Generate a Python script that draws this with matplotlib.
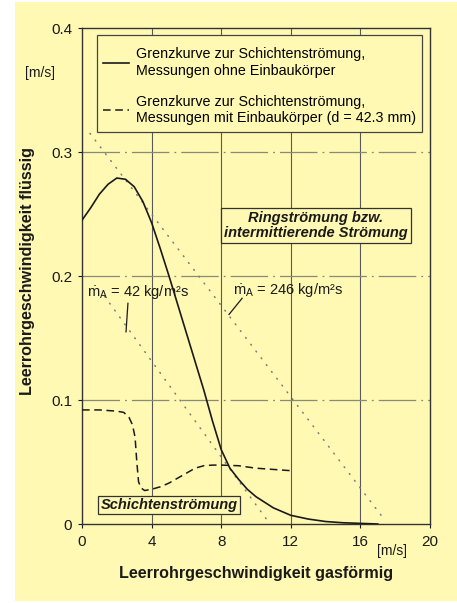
import matplotlib
matplotlib.use("Agg")
import matplotlib.pyplot as plt
from matplotlib.patches import Rectangle

# ---- data ----
solid_x = [0, 0.5, 1.0, 1.5, 2.0, 2.5, 3.0, 3.5, 4.0, 4.5, 5.0, 5.5, 6.0, 6.5, 7.0,
           7.5, 8.0, 8.5, 9.0, 9.5, 10, 11, 12, 13, 14, 15, 16, 17]
solid_y = [0.245, 0.255, 0.266, 0.274, 0.279, 0.278, 0.272, 0.260, 0.243, 0.222, 0.200,
           0.177, 0.154, 0.131, 0.108, 0.083, 0.060, 0.045, 0.036, 0.028, 0.022, 0.013,
           0.007, 0.004, 0.002, 0.001, 0.0005, 0.0]

dash_x = [0, 1, 2, 2.4, 2.7, 2.9, 3.05, 3.15, 3.25, 3.4, 3.6, 4, 4.5, 5, 5.5, 6, 6.5,
          7, 7.5, 8, 9, 10, 11, 12]
dash_y = [0.092, 0.092, 0.091, 0.090, 0.086, 0.080, 0.070, 0.050, 0.034, 0.029, 0.027,
          0.028, 0.030, 0.033, 0.037, 0.041, 0.045, 0.047, 0.0475, 0.0475, 0.047, 0.045,
          0.044, 0.043]

dot42_x = [1.3, 10.8]
dot42_y = [0.1836, 0.0]
dot246_x = [0.46, 17.3]
dot246_y = [0.315, 0.005]

x_ticks = [0, 4, 8, 12, 16, 20]
x_ticklabels = ["0", "4", "8", "12", "16", "20"]
y_ticks = [0, 0.1, 0.2, 0.3, 0.4]
y_ticklabels = ["0", "0.1", "0.2", "0.3", "0.4"]

legend_labels = ["Grenzkurve zur Schichtenströmung,\nMessungen ohne Einbaukörper",
                 "Grenzkurve zur Schichtenströmung,\nMessungen mit Einbaukörper (d = 42.3 mm)"]

plt.rcParams['font.family'] = ['Liberation Sans', 'DejaVu Sans']
plt.rcParams['mathtext.fontset'] = 'custom'
plt.rcParams['mathtext.rm'] = 'Liberation Sans'
plt.rcParams['mathtext.it'] = 'Liberation Sans'

YEL = '#fff9b3'
INK = '#1a1a1a'
W, H = 457, 603
fig = plt.figure(figsize=(W / 100, H / 100), dpi=100, facecolor='white')
bg = fig.add_axes([15 / W, 2 / H, (W - 15) / W, (H - 4) / H], zorder=-10)
bg.set_facecolor(YEL)
bg.axis('off')
bg.add_patch(Rectangle((0, 0), 1, 1, transform=bg.transAxes, facecolor=YEL, edgecolor='none'))

ax = fig.add_axes([82 / W, 1 - 524 / H, (430 - 82) / W, (524 - 28) / H], zorder=1)
ax.set_facecolor(YEL)
ax.set_xlim(0, 20)
ax.set_ylim(0, 0.4)

for xv in [4, 8, 12, 16]:
    ax.axvline(xv, color='#5a5a5a', lw=0.8, zorder=1)
for yv in [0.1, 0.2, 0.3]:
    ax.axhline(yv, color='#8a8a7a', lw=0.9, dashes=(30, 4, 1.5, 4), zorder=1)

ax.plot(dot42_x, dot42_y, color='#7a7a7a', lw=1.1, ls=(0, (0.6, 5)), dash_capstyle='round', zorder=2)
ax.plot(dot246_x, dot246_y, color='#7a7a7a', lw=1.1, ls=(0, (0.6, 5)), dash_capstyle='round', zorder=2)

l1, = ax.plot(solid_x, solid_y, color=INK, lw=1.2, zorder=3)
l2, = ax.plot(dash_x, dash_y, color=INK, lw=1.1, dashes=(5, 3), zorder=3)

# legend frame drawn separately
ax.add_patch(Rectangle((0.043, 0.79), 0.977 - 0.043, 0.986 - 0.79, transform=ax.transAxes,
                       facecolor=YEL, edgecolor='#444444', lw=0.9, zorder=5))
leg = ax.legend([l1, l2], legend_labels, loc='upper left', bbox_to_anchor=(0.043, 0.974),
                frameon=False, fontsize=10.3, handlelength=1.8,
                handletextpad=0.45, labelspacing=1.2, borderpad=0.45, borderaxespad=0)
leg.set_zorder(6)

ax.text(13.45, 0.241, "Ringströmung bzw.\nintermittierende Strömung", ha='center', va='center',
        fontsize=10.5, fontweight='bold', fontstyle='italic', color=INK, linespacing=1.1,
        bbox=dict(boxstyle='square,pad=0.2', facecolor=YEL, edgecolor='#333333', lw=0.9), zorder=4)
ax.text(5.0, 0.0153, "Schichtenströmung", ha='center', va='center',
        fontsize=10.5, fontweight='bold', fontstyle='italic', color=INK,
        bbox=dict(boxstyle='square,pad=0.15', facecolor=YEL, edgecolor='#333333', lw=0.9), zorder=4)

ax.text(0.29, 0.187, r"$\dot{\mathrm{m}}_{\mathrm{A}}$ = 42 kg/m²s", ha='left', va='center',
        fontsize=10.5, color=INK, zorder=4)
ax.text(8.68, 0.189, r"$\dot{\mathrm{m}}_{\mathrm{A}}$ = 246 kg/m²s", ha='left', va='center',
        fontsize=10.5, color=INK, zorder=4)
ax.plot([2.53, 2.64], [0.155, 0.178], color=INK, lw=0.9, zorder=4)
ax.plot([8.45, 9.2], [0.169, 0.182], color=INK, lw=0.9, zorder=4)

ax.set_xticks(x_ticks)
ax.set_xticklabels(x_ticklabels)
ax.set_yticks(y_ticks)
ax.set_yticklabels(y_ticklabels)
ax.tick_params(direction='out', length=3, width=0.8, labelsize=11, colors=INK, pad=5)
ax.tick_params(axis='y', pad=4)
for s in ax.spines.values():
    s.set_color('#333333')
    s.set_linewidth(1.0)

ax.set_xlabel("Leerrohrgeschwindigkeit gasförmig", fontsize=11.6, fontweight='bold', labelpad=12, color=INK)
ax.set_ylabel("Leerrohrgeschwindigkeit flüssig", fontsize=11.6, fontweight='bold', labelpad=12, color=INK)
ax.yaxis.set_label_coords(-0.135, 0.51)
fig.text(40 / W, 1 - 73 / H, "[m/s]", ha='center', va='center', fontsize=10, color=INK)
fig.text(392 / W, 1 - 551 / H, "[m/s]", ha='center', va='center', fontsize=10, color=INK)

fig.savefig("out.png", dpi=100, facecolor='white')
